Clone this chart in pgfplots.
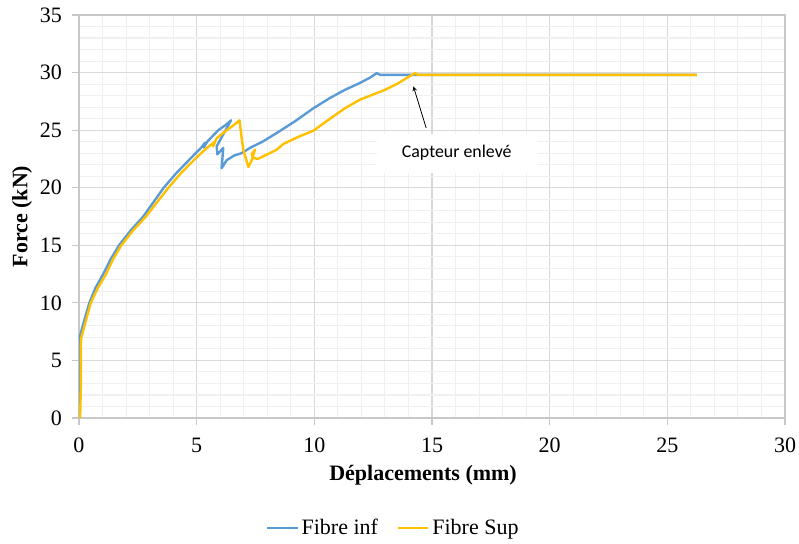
\documentclass[border=0pt]{standalone}
\usepackage{pgfplots}
\pgfplotsset{compat=1.18}
\usepackage{fontspec}
\setmainfont{Liberation Serif}
\newfontfamily\calibri{Carlito}
\definecolor{cblue}{HTML}{5B9BD5}
\definecolor{cyellow}{HTML}{FFC000}
\definecolor{gridmaj}{HTML}{D9D9D9}
\definecolor{gridmin}{HTML}{F0F0F0}
\definecolor{axisgray}{HTML}{C8C8C8}
\begin{document}
\begin{tikzpicture}
\useasboundingbox (-59.25pt,-93.75pt) rectangle (540pt,313.5pt);
\begin{axis}[
  at={(0,0)}, anchor=south west,
  scale only axis, width=529.5pt, height=302.25pt,
  xmin=0, xmax=30, ymin=0, ymax=35,
  xtick={0,5,...,30}, ytick={0,5,...,35},
  minor x tick num=4, minor y tick num=4,
  grid=both,
  major grid style={color=gridmaj, line width=0.8pt},
  minor grid style={color=gridmin, line width=0.8pt},
  axis line style={color=axisgray, line width=0.8pt},
  tick style={color=axisgray, line width=0.8pt},
  major tick length=5.25pt, minor tick length=0pt,
  tick align=outside, tick pos=left,
  /pgf/number format/assume math mode=true,
  tick label style={font=\fontsize{16.5}{19}\selectfont, text=black},
  xticklabel shift=6pt,
  yticklabel shift=4pt,
  xlabel={Déplacements (mm)},
  ylabel={Force (kN)},
  every axis x label/.style={at={(rel axis cs:0.4873,0)}, anchor=center, yshift=-42.75pt,
    font=\fontsize{16.5}{19}\selectfont\bfseries},
  every axis y label/.style={at={(rel axis cs:0,0.5)}, anchor=center, xshift=-42.75pt, rotate=90,
    font=\fontsize{16.5}{19}\selectfont\bfseries},
  legend style={at={(0.4455,0)}, anchor=center, yshift=-82.5pt, draw=none, fill=none,
    font=\fontsize{16.5}{19}\selectfont, legend columns=2,
    /tikz/every even column/.append style={column sep=12pt}},
  legend image code/.code={\draw[#1] (0pt,0pt) -- (23pt,0pt);},
  legend cell align=left,
]
\addplot[cblue, line width=1.8pt, line join=round] coordinates {
(0,0) (0.02,3) (0.03,6.5) (0.05,7.2) (0.2,8.3) (0.44,10) (0.7,11.3) (1.03,12.5)
(1.35,13.8) (1.7,15) (2.2,16.3) (2.73,17.5) (3.15,18.7) (3.6,20) (4.15,21.3)
(4.72,22.5) (5.2,23.5) (5.35,23.9) (5.3,23.5) (5.45,24.0) (5.92,25.0) (6.2,25.4)
(6.46,25.85) (5.85,23.6) (5.88,22.9) (6.13,23.45) (6.06,21.7) (6.28,22.4)
(6.6,22.8) (6.91,23.0) (7.3,23.5) (7.8,24.0) (8.4,24.75) (9.2,25.8) (9.96,26.9)
(10.67,27.8) (11.3,28.5) (11.94,29.1) (12.4,29.6) (12.65,29.95) (12.8,29.8)
(26.26,29.8)
};
\addlegendentry{Fibre inf}
\addplot[cyellow, line width=1.8pt, line join=round] coordinates {
(0.05,0) (0.08,3) (0.08,6.5) (0.1,7.0) (0.3,8.5) (0.5,10) (0.8,11.3) (1.15,12.5)
(1.45,13.8) (1.8,15) (2.3,16.3) (2.85,17.5) (3.3,18.7) (3.8,20) (4.35,21.3)
(4.93,22.5) (5.4,23.4) (5.78,24.0) (5.7,23.6) (5.85,24.3) (6.28,25.0) (6.55,25.4)
(6.82,25.85) (6.9,24.5) (6.98,23.3) (7.2,21.8) (7.34,22.4) (7.48,23.3) (7.34,22.9)
(7.4,22.6) (7.6,22.5) (8.0,22.9) (8.4,23.3) (8.68,23.8) (9.3,24.4) (9.96,24.95)
(10.67,26.0) (11.3,26.9) (11.94,27.65) (12.5,28.1) (13.0,28.5) (13.5,29.0)
(14.07,29.7) (14.28,29.95) (14.4,29.8) (26.26,29.8)
};
\addlegendentry{Fibre Sup}
\node[fill=white, inner xsep=19pt, inner ysep=9pt, font=\calibri\fontsize{13.4}{16}\selectfont]
  at (axis cs:16.05,23.0) {Capteur enlevé};
\draw[-stealth, black, line width=0.6pt] (axis cs:14.75,25.2) -- (axis cs:14.21,28.8);
\end{axis}
\end{tikzpicture}
\end{document}
